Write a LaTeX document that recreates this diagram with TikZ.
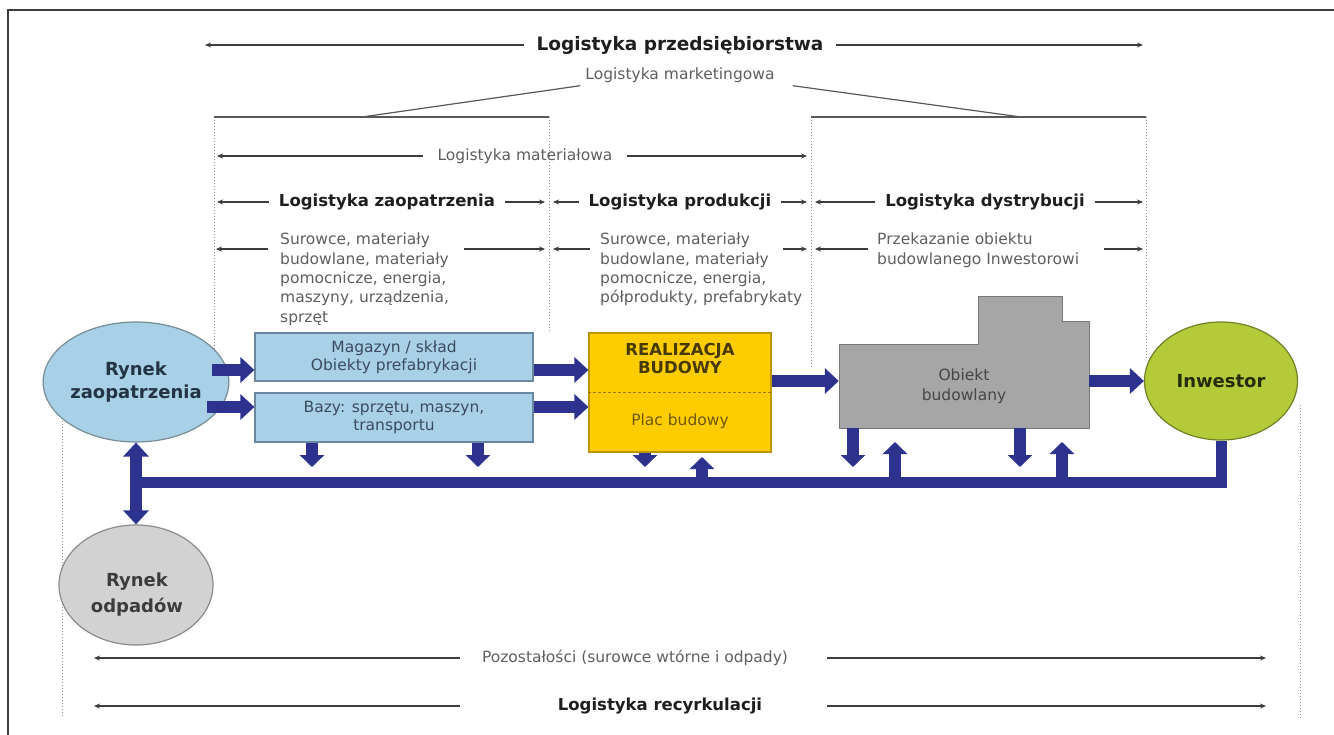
\documentclass[tikz,border=0pt]{standalone}
\usepackage{fontspec}
\setmainfont{DejaVu Sans}
\usetikzlibrary{arrows.meta,calc,shapes.geometric}
\definecolor{navy}{RGB}{44,50,142}
\definecolor{labgray}{RGB}{95,95,95}
\definecolor{titlecol}{RGB}{30,30,30}
\definecolor{linegray}{RGB}{60,60,60}
\definecolor{dotgray}{RGB}{140,140,140}
\definecolor{boxblue}{RGB}{168,208,230}
\definecolor{boxbd}{RGB}{105,135,160}
\definecolor{circbd}{RGB}{120,140,150}
\definecolor{yel}{RGB}{255,204,0}
\definecolor{yelbd}{RGB}{190,150,0}
\definecolor{objgray}{RGB}{166,166,166}
\definecolor{objbd}{RGB}{120,120,120}
\definecolor{grn}{RGB}{180,202,56}
\definecolor{grnbd}{RGB}{110,130,40}
\definecolor{odpgray}{RGB}{210,210,210}
\definecolor{odpbd}{RGB}{140,140,140}
\definecolor{boxtxt}{RGB}{60,75,95}
\definecolor{rztxt}{RGB}{35,52,68}
\definecolor{realtxt}{RGB}{70,58,0}
\definecolor{plactxt}{RGB}{110,88,0}
\definecolor{objtxt}{RGB}{70,70,70}
\definecolor{inwtxt}{RGB}{35,45,10}
\definecolor{odptxt}{RGB}{60,60,60}
\begin{document}
\begin{tikzpicture}[x=1pt,y=-1pt,
  tharr/.style={draw=linegray, line width=1.2pt, -{Stealth[length=6pt,width=5pt]}},
  brline/.style={draw=linegray!85, line width=1.2pt},
  lbl/.style={text=labgray, font=\fontsize{15.5}{19.3}\selectfont, inner sep=0pt},
  ttl/.style={text=titlecol, font=\bfseries\fontsize{16.5}{20}\selectfont, inner xsep=10pt, inner ysep=0pt},
  dotln/.style={draw=dotgray, dotted, line width=1pt},
  bflow/.style={draw=navy, line width=12pt, -{Triangle[length=14pt,width=25pt]}},
  bsmall/.style={draw=navy, line width=12pt, -{Triangle[length=12pt,width=24pt]}},
  bbox/.style={draw=boxbd, fill=boxblue, line width=1.2pt, minimum width=278pt, inner sep=0pt, align=center, text=boxtxt, font=\fontsize{15.5}{18}\selectfont},
  mkt/.style={ellipse, line width=1.2pt, inner sep=0pt, align=center, font=\bfseries\fontsize{18}{23}\selectfont}
]
\useasboundingbox (0,0) rectangle (1334,735);
\fill[white] (0,0) rectangle (1334,735);
% frame
\draw[draw=linegray, line width=1.2pt] (1334,10) -- (8,10) -- (8,735);

% dotted vertical guides
\draw[dotln] (214,117) -- (214,360);
\draw[dotln] (549,117) -- (549,333);
\draw[dotln] (811,117) -- (811,368);
\draw[dotln] (1146,117) -- (1146,360);
\draw[dotln] (62,400) -- (62,718);
\draw[dotln] (1300,405) -- (1300,718);

% title
\node[ttl, font=\bfseries\fontsize{18.5}{22}\selectfont, inner xsep=12pt] (t0) at (680,45) {Logistyka przedsiębiorstwa};
\coordinate (t0l) at (205,45);
\coordinate (t0r) at (1143,45);
\draw[tharr] (t0.west) -- (t0l);
\draw[tharr] (t0.east) -- (t0r);

% marketing
\node[lbl] (mk) at (680,75) {Logistyka marketingowa};
\coordinate (bl) at (362,117);
\coordinate (br) at (1021,117);
\draw[brline] ($(mk.south west)+(-5,3)$) -- (bl);
\draw[brline] ($(mk.south east)+(18,3)$) -- (br);
\draw[brline] (214,117) -- (549,117);
\draw[brline] (811,117) -- (1146,117);

% materialowa
\node[lbl, inner xsep=14pt] (mt) at (525,156) {Logistyka materiałowa};
\coordinate (mtl) at (217,156);
\coordinate (mtr) at (807,156);
\draw[tharr] (mt.west) -- (mtl);
\draw[tharr] (mt.east) -- (mtr);

% row 3
\node[ttl] (zp) at (387,202) {Logistyka zaopatrzenia};
\node[ttl] (pr) at (680,202) {Logistyka produkcji};
\node[ttl] (ds) at (985,202) {Logistyka dystrybucji};
\coordinate (z1) at (217,202);
\coordinate (z2) at (545,202);
\coordinate (p1) at (553,202);
\coordinate (p2) at (807,202);
\coordinate (q1) at (815,202);
\coordinate (q2) at (1143,202);
\draw[tharr] (zp.west) -- (z1);
\draw[tharr] (zp.east) -- (z2);
\draw[tharr] (pr.west) -- (p1);
\draw[tharr] (pr.east) -- (p2);
\draw[tharr] (ds.west) -- (q1);
\draw[tharr] (ds.east) -- (q2);

% row 4 texts
\node[lbl, anchor=north west, align=left] (su1) at (280,233) {Surowce, materiały\\budowlane, materiały\\pomocnicze, energia,\\maszyny, urządzenia,\\sprzęt};
\node[lbl, anchor=north west, align=left] (su2) at (600,233) {Surowce, materiały\\budowlane, materiały\\pomocnicze, energia,\\półprodukty, prefabrykaty};
\node[lbl, anchor=north west, align=left] (su3) at (877,233) {Przekazanie obiektu\\budowlanego Inwestorowi};
\coordinate (r4a) at (268,249); \coordinate (r4b) at (216,249);
\coordinate (r4c) at (464,249); \coordinate (r4d) at (545,249);
\coordinate (r4e) at (590,249); \coordinate (r4f) at (553,249);
\coordinate (r4g) at (783,249); \coordinate (r4h) at (807,249);
\coordinate (r4i) at (868,249); \coordinate (r4j) at (815,249);
\coordinate (r4k) at (1104,249); \coordinate (r4l) at (1143,249);
\draw[tharr] (r4a) -- (r4b);
\draw[tharr] (r4c) -- (r4d);
\draw[tharr] (r4e) -- (r4f);
\draw[tharr] (r4g) -- (r4h);
\draw[tharr] (r4i) -- (r4j);
\draw[tharr] (r4k) -- (r4l);

% main nodes
\node[mkt, draw=circbd, fill=boxblue, minimum width=150pt, minimum height=120pt, text=rztxt] (rz) at (136,382) {Rynek\\zaopatrzenia};
\node[bbox, minimum height=48pt] (mag) at (394,357) {Magazyn / skład\\Obiekty prefabrykacji};
\node[bbox, minimum height=49pt] (bazy) at (394,417.5) {Bazy: sprzętu, maszyn,\\transportu};
\node[draw=yelbd, fill=yel, line width=1.2pt, minimum width=182pt, minimum height=119pt, inner sep=0pt] (real) at (680,392.5) {};
\draw[draw=yelbd!80!black, line width=0.8pt, dash pattern=on 3pt off 2pt] (real.west) -- (real.east);
\node[font=\bfseries\fontsize{16.5}{18}\selectfont, text=realtxt, align=center, inner sep=0pt] (rt) at (680,358) {REALIZACJA\\BUDOWY};
\node[font=\fontsize{15.5}{18}\selectfont, text=plactxt, inner sep=0pt] (pb) at (680,421) {Plac budowy};
\draw[fill=objgray, draw=objbd, line width=1pt] (839,345) -- (978,345) -- (978,297) -- (1062,297) -- (1062,322) -- (1089,322) -- (1089,428) -- (839,428) -- cycle;
\node[minimum width=250pt, minimum height=83pt, inner sep=0pt, align=center, text=objtxt, font=\fontsize{15.5}{20}\selectfont] (obj) at (964,386.5) {Obiekt\\budowlany};
\node[mkt, draw=grnbd, fill=grn, minimum width=153pt, minimum height=118pt, text=inwtxt] (inw) at (1221,381) {Inwestor};
\node[mkt, draw=odpbd, fill=odpgray, minimum width=154pt, minimum height=120pt] (ro) at (136,585) {};
\node[align=center, inner sep=0pt, text=odptxt, font=\bfseries\fontsize{18}{26}\selectfont] (rot) at (137,595) {Rynek\\odpadów};

% thick flows
\coordinate (a1) at (212,370);
\coordinate (a2) at (207,407);
\coordinate (a3) at (771,381);
\draw[bflow] (a1) -- (a1 -| mag.west);
\draw[bflow] (a2) -- (a2 -| bazy.west);
\draw[bflow] (mag.east |- a1) -- (real.west |- a1);
\draw[bflow] (bazy.east |- a2) -- (real.west |- a2);
\draw[bflow] (real.east |- a3) -- (obj.west |- a3);
\draw[bflow] (obj.east |- inw.west) -- (inw.west);

% bus
\coordinate (bj) at (136,482);
\draw[draw=navy, line width=11pt, line join=miter] (inw.south) |- (bj);
\draw[draw=navy, line width=12pt, {Triangle[length=14pt,width=25pt]}-{Triangle[length=14pt,width=25pt]}] (rz.south) -- (ro.north);

% down arrows
\coordinate (d1) at (312,467);
\coordinate (d2) at (478,467);
\coordinate (d3) at (645,467);
\coordinate (d4) at (853,467);
\coordinate (d5) at (1020,467);
\draw[bsmall] (d1 |- bazy.south) -- (d1);
\draw[bsmall] (d2 |- bazy.south) -- (d2);
\draw[bsmall] (d3 |- real.south) -- (d3);
\draw[bsmall] (d4 |- obj.south) -- (d4);
\draw[bsmall] (d5 |- obj.south) -- (d5);
% up arrows
\coordinate (u1) at (702,482); \coordinate (v1) at (702,457);
\coordinate (u2) at (895,482); \coordinate (v2) at (895,442);
\coordinate (u3) at (1062,482); \coordinate (v3) at (1062,442);
\draw[bsmall] (u1) -- (v1);
\draw[bsmall] (u2) -- (v2);
\draw[bsmall] (u3) -- (v3);

% bottom rows
\node[lbl] (pz) at (635,658) {Pozostałości (surowce wtórne i odpady)};
\node[ttl] (rc) at (660,706) {Logistyka recyrkulacji};
\coordinate (pl0) at (460,658); \coordinate (pl1) at (94,658);
\coordinate (pr0) at (827,658); \coordinate (pr1) at (1266,658);
\coordinate (rl0) at (460,706); \coordinate (rl1) at (94,706);
\coordinate (rr0) at (827,706); \coordinate (rr1) at (1266,706);
\draw[tharr] (pl0) -- (pl1);
\draw[tharr] (pr0) -- (pr1);
\draw[tharr] (rl0) -- (rl1);
\draw[tharr] (rr0) -- (rr1);
\end{tikzpicture}
\end{document}
